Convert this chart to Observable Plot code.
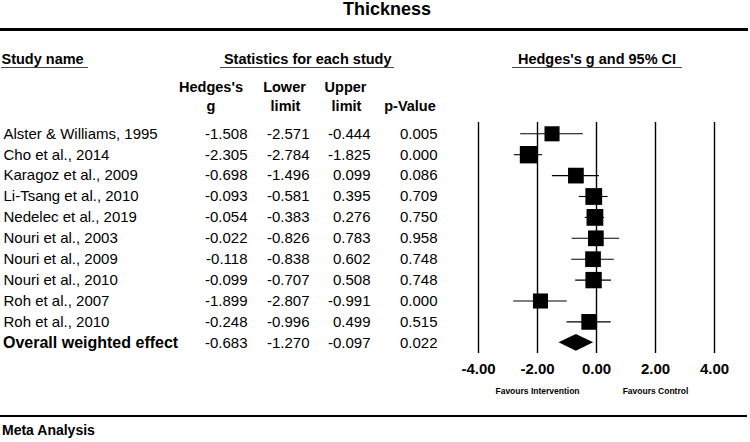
<!DOCTYPE html>
<html>
<head>
<meta charset="utf-8">
<script src="https://cdn.jsdelivr.net/npm/d3@7"></script>
<script src="https://cdn.jsdelivr.net/npm/@observablehq/plot@0.6"></script>
<style>
  html, body { margin: 0; padding: 0; background: #fff; }
  #wrap { position: relative; width: 750px; height: 442px; overflow: hidden;
          font-family: "Liberation Sans", Arial, sans-serif; color: #000; }
  #wrap svg { position: absolute; left: 0; top: 0; }
  .lab { position: absolute; white-space: pre; line-height: 1; font-weight: bold; }
  .c { transform: translate(-50%, -50%); }
  .l { transform: translate(0, -50%); }
  .rule { position: absolute; background: #000; }
  .uline { position: absolute; background: #444; height: 1px; }
</style>
</head>
<body>
<div id="wrap"></div>
<script>
// ---- data ----
const studyNames = [
  "Alster & Williams, 1995", "Cho et al., 2014", "Karagoz et al., 2009",
  "Li-Tsang et al., 2010", "Nedelec et al., 2019", "Nouri et al., 2003",
  "Nouri et al., 2009", "Nouri et al., 2010", "Roh et al., 2007", "Roh et al., 2010"
];
const hedgesG    = [-1.508, -2.305, -0.698, -0.093, -0.054, -0.022, -0.118, -0.099, -1.899, -0.248];
const lowerLimit = [-2.571, -2.784, -1.496, -0.581, -0.383, -0.826, -0.838, -0.707, -2.807, -0.996];
const upperLimit = [-0.444, -1.825,  0.099,  0.395,  0.276,  0.783,  0.602,  0.508, -0.991,  0.499];
const pValue     = [ 0.005,  0.000,  0.086,  0.709,  0.750,  0.958,  0.748,  0.748,  0.000,  0.515];
const relWeight  = [ 8.8, 11.7, 9.6, 10.9, 10.9, 9.6, 9.6, 10.4, 8.8, 9.6];
const overallName  = "Overall weighted effect";
const overallG     = -0.683;
const overallLower = -1.270;
const overallUpper = -0.097;
const overallP     = 0.022;
const xTicks = [-4, -2, 0, 2, 4];
const favourLabels = ["Favours Intervention", "Favours Control"];
const favourX = [-2, 2];

// ---- build tables ----
const rows = studyNames.map((name, i) => ({
  idx: i, name, g: hedgesG[i], lower: lowerLimit[i], upper: upperLimit[i], p: pValue[i], w: relWeight[i]
}));
const overall = { idx: rows.length, name: overallName, g: overallG, lower: overallLower, upper: overallUpper, p: overallP };
const table = [...rows, overall];
const favours = favourLabels.map((label, i) => ({ label, x: favourX[i] }));
const halfH = 0.4; // diamond half-height in row units
const diamond = [
  { x: overall.lower, y1: overall.idx, y2: overall.idx },
  { x: overall.g, y1: overall.idx - halfH, y2: overall.idx + halfH },
  { x: overall.upper, y1: overall.idx, y2: overall.idx }
];
const gridLines = xTicks.map(x => ({ x, y1: 0, y2: table.length - 1 }));

const f3 = v => v.toFixed(3);
const columns = [
  { get: d => f3(d.g), right: 247 },
  { get: d => f3(d.lower), right: 309 },
  { get: d => f3(d.upper), right: 370 },
  { get: d => f3(d.p), right: 437 }
];

const chart = Plot.plot({
  width: 750,
  height: 442,
  marginLeft: 0, marginRight: 0, marginTop: 0, marginBottom: 0,
  style: { fontFamily: "Liberation Sans, Arial, sans-serif", fontSize: "15px", color: "#000", background: "transparent" },
  x: { domain: [-4, 4], range: [478, 714] },
  y: { domain: [0, table.length - 1], range: [133.3, 342.3], axis: null },
  r: { type: "sqrt", domain: [0, d3.max(relWeight)], range: [0, 9.8] },
  marks: [
    Plot.ruleX(gridLines, { x: "x", y1: "y1", y2: "y2", insetTop: -11.3, insetBottom: -10.7, stroke: "#000", strokeWidth: 1.4 }),
    Plot.ruleY(rows, { y: "idx", x1: "lower", x2: "upper", stroke: "#000", strokeWidth: 1.1 }),
    Plot.dot(rows, { x: "g", y: "idx", r: "w", symbol: "square", fill: "#000", stroke: null }),
    Plot.areaY(diamond, { x: "x", y1: "y1", y2: "y2", fill: "#000" }),
    // table
    Plot.text(rows, { y: "idx", text: "name", frameAnchor: "left", textAnchor: "start", dx: 3, fontSize: 15 }),
    Plot.text([overall], { y: "idx", text: "name", frameAnchor: "left", textAnchor: "start", dx: 2.5, fontSize: 16, fontWeight: "bold" }),
    ...columns.map(c => Plot.text(table, { y: "idx", text: c.get, frameAnchor: "left", textAnchor: "end", dx: c.right, fontSize: 15 })),
    // axis
    Plot.axisX(xTicks, { anchor: "bottom", tickSize: 0, tickPadding: 0, tickFormat: d => d.toFixed(2), fontSize: 15, fontWeight: "bold", dy: -79, label: null }),
    Plot.text(favours, { x: "x", text: "label", frameAnchor: "top", dy: 387.7, fontSize: 8.5, fontWeight: "bold" })
  ]
});

const wrap = document.getElementById("wrap");
wrap.appendChild(chart);

function lab(text, x, y, size, cls) {
  const d = document.createElement("div");
  d.className = "lab " + cls;
  d.textContent = text;
  d.style.left = x + "px";
  d.style.top = y + "px";
  d.style.fontSize = size + "px";
  wrap.appendChild(d);
}
function box(cls, x, y, w, h) {
  const d = document.createElement("div");
  d.className = cls;
  d.style.left = x + "px"; d.style.top = y + "px"; d.style.width = w + "px";
  if (h) d.style.height = h + "px";
  wrap.appendChild(d);
}

lab("Thickness", 387, 9.3, 18, "c");
box("rule", 0, 28.1, 748, 2.6);
lab("Study name", 1.5, 59, 14.5, "l");
lab("Statistics for each study", 307.7, 59, 14.5, "c");
lab("Hedges's g and 95% CI", 597, 59, 14.5, "c");
box("uline", 1, 67.2, 87);
box("uline", 220, 67.2, 174);
box("uline", 512, 67.2, 170);
lab("Hedges's", 211, 87.3, 14.5, "c");
lab("g", 211, 106, 14.5, "c");
lab("Lower", 284.5, 87.3, 14.5, "c");
lab("limit", 285.5, 106, 14.5, "c");
lab("Upper", 345.5, 87.3, 14.5, "c");
lab("limit", 346.5, 106, 14.5, "c");
lab("p-Value", 410, 106, 14.5, "c");
box("rule", 0, 414.7, 747, 2.6);
lab("Meta Analysis", 2, 430, 14, "l");
</script>
</body>
</html>
